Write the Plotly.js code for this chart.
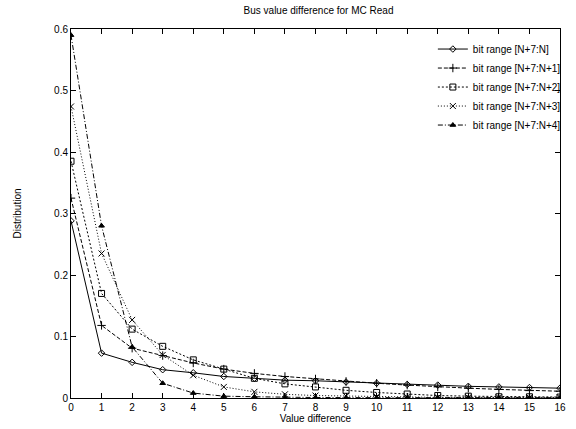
<!DOCTYPE html>
<html><head><meta charset="utf-8">
<script src="https://cdn.plot.ly/plotly-3.0.1.min.js"></script>
<style>html,body{margin:0;padding:0;background:#fff}</style>
</head><body><div id="chart" style="width:576px;height:429px"></div>
<script>
const xValues = [0,1,2,3,4,5,6,7,8,9,10,11,12,13,14,15,16];
const seriesNames = ["bit range [N+7:N]","bit range [N+7:N+1]","bit range [N+7:N+2]","bit range [N+7:N+3]","bit range [N+7:N+4]"];
const range0 = [0.288,0.073,0.058,0.046,0.041,0.035,0.032,0.029,0.028,0.026,0.024,0.022,0.021,0.019,0.018,0.017,0.016];
const range1 = [0.325,0.118,0.081,0.069,0.057,0.047,0.040,0.035,0.031,0.027,0.024,0.021,0.018,0.016,0.014,0.012,0.011];
const range2 = [0.385,0.170,0.112,0.084,0.062,0.047,0.032,0.023,0.018,0.0125,0.009,0.0065,0.004,0.003,0.002,0.002,0.0015];
const range3 = [0.474,0.235,0.127,0.070,0.037,0.018,0.010,0.006,0.004,0.003,0.002,0.0015,0.001,0.001,0.001,0.001,0.001];
const range4 = [0.590,0.280,0.083,0.024,0.008,0.003,0.002,0.001,0.0008,0.0006,0.0005,0.0005,0.0005,0.0005,0.0005,0.0005,0.0005];
const allSeries = [range0,range1,range2,range3,range4];
const dashes = ["solid","4px,2px","2px,2px","1px,2px","5px,2px,1px,2px"];
const symbols = ["diamond-open","cross-thin-open","square-open","x-thin-open","triangle-up"];
const msizes = [5,6,6,6,5];

const traces = allSeries.map((ys,i)=>({
  x: xValues, y: ys, name: seriesNames[i], type:"scatter", mode:"lines+markers",
  line:{color:"#000", width:1, dash:dashes[i]},
  marker:{symbol:symbols[i], size:msizes[i], color:"#000", line:{color:"#000", width:1}}
}));

const fnt = {family:"Liberation Sans, Arial, sans-serif", size:10, color:"#000"};
const layout = {
  width:576, height:429,
  margin:{l:71, r:10, t:29, b:31},
  paper_bgcolor:"#fff", plot_bgcolor:"#fff",
  font: fnt,
  title:{text:"Bus value difference for MC Read", font:{...fnt, size:10}, x:0.553, xanchor:"center", y:0.975, yanchor:"middle"},
  xaxis:{range:[0,16], tickvals:xValues, ticktext:xValues.map(String), ticks:"inside", ticklen:5, tickcolor:"#000",
    showline:true, linecolor:"#000", linewidth:1, mirror:"ticks", showgrid:false, zeroline:false,
    title:{text:"Value difference", font:fnt, standoff:0}, tickfont:fnt},
  yaxis:{range:[0,0.6], tickvals:[0,0.1,0.2,0.3,0.4,0.5,0.6], ticktext:["0","0.1","0.2","0.3","0.4","0.5","0.6"],
    ticks:"inside", ticklen:5, tickcolor:"#000",
    showline:true, linecolor:"#000", linewidth:1, mirror:"ticks", showgrid:false, zeroline:false,
    title:{text:"Distribution", font:fnt, standoff:30}, tickfont:fnt},
  legend:{x:0.74, y:0.985, xanchor:"left", yanchor:"top", bgcolor:"rgba(0,0,0,0)", font:fnt,
    tracegroupgap:0, itemwidth:30},
  showlegend:true
};
Plotly.newPlot("chart", traces, layout, {displayModeBar:false, staticPlot:true});
</script></body></html>
